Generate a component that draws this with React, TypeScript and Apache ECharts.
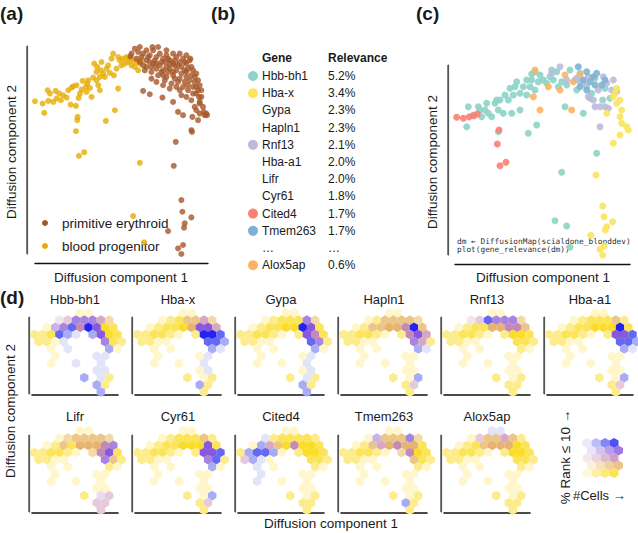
import { useEffect, useRef } from "react";
import * as echarts from "echarts";

// ================= DATA =================
// Panel (a): cells in diffusion-map space [DC1, DC2] (arbitrary units)
const bloodProgenitor: number[][] = [
  [5, 467], [28, 460], [33, 432], [43, 500], [45, 468], [60, 465], [67, 498], [78, 490], [83, 470], [90, 485],
  [100, 478], [112, 457], [115, 508], [120, 512], [128, 453], [130, 515], [133, 420], [132, 410], [128, 377],
  [136, 477], [145, 502], [148, 528], [158, 510], [162, 520], [165, 530], [170, 507], [175, 480], [180, 538],
  [183, 580], [190, 555], [192, 570], [195, 515], [200, 540], [203, 560], [210, 550], [215, 540], [218, 408],
  [225, 575], [230, 552], [240, 610], [242, 545], [245, 440], [250, 565], [255, 505], [260, 590], [265, 575],
  [270, 595], [280, 600], [285, 585], [290, 595], [295, 575], [300, 590], [305, 570], [310, 585], [315, 560],
  [320, 580], [325, 590], [137, 303], [153, 314], [320, 282], [300, 122], [333, 43], [50, 490], [70, 475],
  [105, 500], [140, 490], [160, 495], [190, 530], [205, 585], [220, 565], [235, 595], [275, 580], [255, 600],
  [200, 500],
];
const primitiveErythroid: number[][] = [
  [330, 498], [350, 488], [388, 478], [420, 465], [435, 435], [450, 425], [478, 420], [475, 380], [477, 375],
  [500, 465], [495, 410], [520, 430], [515, 425], [428, 345], [422, 273], [445, 170], [448, 135], [475, 118],
  [455, 100], [453, 87], [405, 77], [435, 25], [450, 35], [445, 8],
  [292, 602], [305, 625], [320, 630], [340, 620], [310, 595], [330, 610], [350, 605], [360, 620], [370, 600],
  [380, 610], [390, 595], [400, 605], [410, 590], [420, 580], [430, 600], [440, 585], [450, 595], [460, 580],
  [470, 590], [475, 570], [480, 560], [490, 550], [495, 530], [500, 515], [505, 500], [498, 480], [490, 490],
  [480, 510], [470, 530], [460, 540], [455, 560], [445, 550], [430, 560], [420, 545], [410, 565], [400, 570],
  [390, 560], [380, 575], [370, 565], [360, 580], [350, 585], [340, 590], [330, 575], [320, 585], [335, 560],
  [355, 555], [375, 545], [395, 530], [415, 520], [435, 525], [450, 510], [465, 500], [440, 500], [400, 540],
  [385, 555], [425, 575], [445, 570], [465, 515], [485, 525], [500, 460], [510, 450], [358, 630], [375, 630],
  [400, 620], [420, 610], [440, 610], [460, 605], [472, 595], [455, 525], [425, 535], [410, 580], [395, 585],
  [500, 430], [490, 440], [315, 615], [345, 600], [365, 590], [385, 585], [405, 595], [425, 590], [435, 575],
  [455, 585], [465, 565], [485, 540], [475, 545], [460, 555], [440, 535], [420, 555], [405, 555], [390, 545],
  [370, 580], [355, 570], [340, 570], [325, 600], [490, 510], [495, 500], [505, 480], [480, 490], [475, 470],
  [460, 480], [445, 485], [430, 510], [410, 505], [390, 515], [370, 525], [355, 535], [295, 610], [512, 435],
  [522, 425], [485, 450],
];

// Panel (b): gene relevance table
const tableGenes = ["Hbb-bh1", "Hba-x", "Gypa", "Hapln1", "Rnf13", "Hba-a1", "Lifr", "Cyr61", "Cited4", "Tmem263", "…", "Alox5ap"];
const tableRelevance = ["5.2%", "3.4%", "2.3%", "2.3%", "2.1%", "2.0%", "2.0%", "1.8%", "1.7%", "1.7%", "…", "0.6%"];

// Panel (c): cells coloured by most relevant gene [DC1, DC2]
const cellsHbbBh1: number[][] = [
  [40, 400], [45, 460], [60, 435], [75, 460], [85, 430], [95, 450], [105, 440], [115, 430], [125, 470], [135, 450],
  [140, 480], [135, 385], [150, 440], [155, 495], [165, 480], [175, 440], [180, 495], [185, 520], [190, 535],
  [200, 500], [200, 450], [210, 520], [220, 495], [225, 380], [230, 520], [235, 540], [245, 510], [250, 405],
  [255, 535], [260, 555], [270, 540], [280, 530], [290, 550], [300, 540], [310, 565], [315, 520], [325, 535],
  [335, 460], [340, 525], [350, 570], [365, 540], [370, 510], [390, 440], [400, 520], [410, 485], [425, 545],
  [430, 320], [325, 263], [305, 118], [340, 102], [350, 38], [235, 558], [245, 565], [295, 570], [415, 500],
  [448, 480], [455, 515], [380, 535], [470, 485], [380, 560], [220, 540], [170, 515], [130, 480], [100, 470],
  [80, 450],
];
const cellsAlox5ap: number[][] = [
  [245, 570], [240, 490], [260, 450], [285, 520], [335, 555], [355, 450], [380, 555], [360, 535], [320, 510],
];
const cellsRnf13: number[][] = [
  [295, 560], [320, 580], [340, 540], [370, 545], [390, 530], [405, 490], [420, 480], [425, 460], [440, 460],
  [440, 400], [455, 460], [460, 530], [475, 510], [480, 540], [490, 505], [405, 550], [450, 550], [435, 510],
  [465, 455],
];
const cellsTmem263: number[][] = [
  [375, 580], [400, 565], [420, 550], [430, 560], [410, 535], [390, 540], [425, 525], [445, 525], [455, 540],
  [400, 510], [380, 520],
];
const cellsCited4: number[][] = [
  [10, 428], [30, 425], [48, 430], [62, 433], [72, 438], [137, 390], [132, 348], [140, 283], [158, 293],
];
const cellsHbaX: number[][] = [
  [480, 490], [490, 470], [500, 480], [505, 450], [500, 430], [505, 410], [520, 400], [525, 390], [500, 375],
  [480, 350], [460, 440], [428, 255], [448, 162], [452, 130], [478, 115], [460, 100], [456, 90], [412, 74],
  [440, 32], [453, 42], [448, 15], [485, 500], [490, 515],
];

// Panel (d): hexbin cell counts (level 0-3, '.' = empty), rows top to bottom
const hexCountRows = [
  ".....00.....",
  "...0122221..",
  ".012233332..",
  "112210.1332.",
  "1100....221.",
  "..0.0....10.",
  "..0....00...",
  "..0..0..0...",
  ".......00...",
  "......1.01..",
  ".......11...",
  "........1...",
];
// per gene: [row, col, rank level 1-4] (all other hexes rank level 0)
const ranksHbbBh1 = [
  [1, 3, 2], [1, 4, 2], [1, 5, 3], [1, 6, 3], [1, 7, 3], [1, 8, 2], [1, 9, 1],
  [2, 2, 3], [2, 3, 3], [2, 4, 4], [2, 5, 2], [2, 6, 4], [2, 7, 3],
  [3, 3, 4], [3, 4, 4], [3, 5, 4], [3, 7, 4], [3, 8, 3], [4, 3, 4], [4, 8, 3],
  [5, 4, 4], [5, 9, 4], [6, 7, 4], [6, 8, 4], [7, 5, 4], [7, 8, 4], [8, 7, 4], [8, 8, 4],
  [9, 6, 4], [9, 8, 4], [10, 7, 4], [11, 8, 4],
];
const ranksHbaX = [
  [1, 6, 1], [1, 7, 1], [1, 8, 2], [1, 9, 1], [2, 6, 1], [2, 7, 3], [2, 8, 3], [2, 9, 2],
  [3, 8, 4], [3, 9, 4], [3, 10, 4], [4, 8, 4], [4, 9, 4], [4, 10, 4], [5, 9, 4], [5, 10, 4],
  [6, 8, 4], [7, 8, 4], [8, 8, 4], [10, 7, 4],
];
const ranksGypa = [
  [1, 8, 3], [1, 9, 1], [2, 7, 4], [2, 8, 3], [3, 8, 3], [3, 9, 2], [4, 8, 4], [4, 9, 3],
  [5, 9, 4], [6, 8, 4], [7, 8, 4], [8, 8, 4], [9, 8, 4], [10, 7, 4], [11, 8, 4],
];
const ranksHapln1 = [
  [1, 5, 1], [1, 6, 1], [1, 7, 1], [1, 8, 1], [1, 9, 1], [2, 3, 1], [2, 4, 1], [2, 5, 1], [2, 6, 1],
  [2, 7, 2], [2, 8, 4], [2, 9, 1], [3, 8, 2], [3, 9, 3], [3, 10, 2], [4, 8, 3], [4, 9, 2],
  [5, 9, 4], [5, 10, 4], [9, 9, 4], [10, 8, 2],
];
const ranksRnf13 = [
  [1, 3, 2], [1, 4, 2], [1, 5, 4], [1, 6, 3], [1, 7, 3], [1, 8, 3], [1, 9, 1],
  [2, 5, 1], [2, 6, 1], [2, 7, 2], [2, 8, 2], [2, 9, 1],
];
const ranksHbaA1 = [
  [1, 8, 1], [2, 8, 4], [3, 8, 3], [3, 9, 3], [3, 10, 4], [4, 8, 4], [4, 9, 4], [4, 10, 4],
  [5, 9, 4], [5, 10, 4], [9, 9, 4], [10, 8, 2],
];
const ranksLifr = [
  [1, 4, 1], [1, 5, 1], [1, 6, 1], [1, 7, 1], [1, 8, 1], [1, 9, 1], [2, 3, 1], [2, 5, 1], [2, 6, 1],
  [2, 7, 1], [2, 8, 2], [2, 9, 3], [3, 7, 1], [3, 8, 2], [3, 9, 3], [4, 8, 3], [4, 9, 1],
  [9, 8, 3], [9, 9, 2], [10, 7, 2], [10, 8, 2], [11, 8, 2],
];
const ranksCyr61 = [
  [1, 8, 1], [2, 8, 3], [3, 8, 3], [3, 9, 3], [3, 10, 4], [4, 8, 3], [4, 9, 4], [5, 9, 4], [9, 9, 4], [10, 8, 2],
];
const ranksCited4 = [
  [1, 3, 4], [2, 2, 4], [2, 3, 2], [2, 4, 1], [2, 6, 2], [3, 1, 4], [3, 2, 4], [3, 3, 4], [3, 4, 4],
  [4, 0, 2], [4, 1, 4], [4, 2, 4], [5, 2, 4], [6, 2, 4], [7, 2, 4],
];
const ranksTmem263 = [
  [1, 4, 3], [1, 5, 1], [1, 6, 1], [1, 7, 1], [1, 8, 3], [1, 9, 1], [2, 3, 1], [2, 4, 2], [2, 5, 1],
  [2, 6, 2], [2, 7, 1], [2, 8, 1], [3, 7, 1], [3, 8, 2], [4, 8, 1], [10, 7, 4],
];
const ranksAlox5ap = [
  [0, 5, 4], [0, 6, 4], [1, 4, 2], [1, 5, 1], [1, 6, 1], [1, 7, 2], [1, 8, 1],
  [2, 4, 1], [2, 5, 1], [2, 6, 1], [2, 7, 1],
];
const panelGenes = ["Hbb-bh1", "Hba-x", "Gypa", "Hapln1", "Rnf13", "Hba-a1", "Lifr", "Cyr61", "Cited4", "Tmem263", "Alox5ap"];
const panelRanks = [ranksHbbBh1, ranksHbaX, ranksGypa, ranksHapln1, ranksRnf13, ranksHbaA1, ranksLifr, ranksCyr61, ranksCited4, ranksTmem263, ranksAlox5ap];

// ================= STYLE =================
const FONT = "'Liberation Sans', Arial, Helvetica, sans-serif";
const MONO = "'DejaVu Sans Mono', monospace";
const TXT = "#1a1a1a";
const GENE_COLORS: Record<string, string> = {
  "Hbb-bh1": "#8DD3C7",
  "Hba-x": "#F9E65E",
  Rnf13: "#BEBADA",
  Cited4: "#FB8072",
  Tmem263: "#80B1D3",
  Alox5ap: "#FDB462",
};
const HEX_PALETTE = [
  ["#FFF6CC", "#FDEC8C", "#FCE458", "#FADD28"],
  ["#FBEBD6", "#F4D9A8", "#EBC688", "#E6B46E"],
  ["#F3E3EC", "#E6C9DA", "#D6A8C4", "#C48AB6"],
  ["#E6DDF5", "#C8B2EC", "#A884E2", "#8A58DC"],
  ["#E2E4FA", "#A8ACF6", "#6468F2", "#2424F0"],
];
const HEX_PATH = "path://M0,-1L0.866,-0.5L0.866,0.5L0,1L-0.866,0.5L-0.866,-0.5Z";
const HEX_DY = 0.866;
const PX = 8.3;
const Y_LINE = "#555555";

function txt(text: string, x: number, y: number, extra: any = {}, rotation = 0) {
  const { align = "left", vAlign = "middle", ...rest } = extra;
  return {
    type: "text",
    x,
    y,
    rotation,
    silent: true,
    style: {
      text,
      fill: TXT,
      fontSize: 13.5,
      fontFamily: FONT,
      textAlign: align,
      textVerticalAlign: vAlign,
      align,
      verticalAlign: vAlign,
      ...rest,
    },
  };
}

// vertical axis rule drawn beside a grid (left side, offset px)
function vRule(grid: { left: number; top: number; height: number }, offset: number) {
  const x = grid.left - offset;
  return {
    type: "rect",
    silent: true,
    z: 100,
    shape: { x: x - 0.7, y: grid.top, width: 1.4, height: grid.height },
    style: { fill: Y_LINE },
  };
}

function hiddenAxis(gridIndex: number, min: number, max: number) {
  return { gridIndex, type: "value", min, max, show: false };
}

function lineAxis(gridIndex: number, min: number, max: number, color: string, width: number, offset: number) {
  return {
    gridIndex,
    type: "value",
    min,
    max,
    offset,
    axisLine: { show: true, onZero: false, lineStyle: { color, width } },
    axisTick: { show: false },
    axisLabel: { show: false },
    splitLine: { show: false },
  };
}

function buildOption() {
  const grids: any[] = [];
  const xAxes: any[] = [];
  const yAxes: any[] = [];
  const series: any[] = [];
  const graphics: any[] = [];

  // ---- (a) ----
  const gA = { left: 35, top: 46, width: 173, height: 208 };
  grids.push(gA);
  xAxes.push(lineAxis(0, 5, 525, "#111", 1.3, 9));
  yAxes.push(lineAxis(0, 8, 633, Y_LINE, 1.2, 8));
  graphics.push(vRule(gA, 8));
  series.push({
    type: "scatter", xAxisIndex: 0, yAxisIndex: 0, data: bloodProgenitor, symbolSize: 6, clip: false,
    itemStyle: { color: "#E6AB02" }, silent: true,
  });
  series.push({
    type: "scatter", xAxisIndex: 0, yAxisIndex: 0, data: primitiveErythroid, symbolSize: 6, clip: false,
    itemStyle: { color: "#A65628" }, silent: true,
  });

  // ---- (c) ----
  const gC = { left: 455, top: 65, width: 175, height: 190 };
  grids.push(gC);
  xAxes.push(lineAxis(1, 5, 530, "#111", 1.3, 9));
  yAxes.push(lineAxis(1, 15, 585, Y_LINE, 1.2, 7));
  graphics.push(vRule(gC, 7));
  const cGroups: [number[][], string][] = [
    [cellsHbbBh1, GENE_COLORS["Hbb-bh1"]],
    [cellsAlox5ap, GENE_COLORS.Alox5ap],
    [cellsRnf13, GENE_COLORS.Rnf13],
    [cellsTmem263, GENE_COLORS.Tmem263],
    [cellsCited4, GENE_COLORS.Cited4],
    [cellsHbaX, GENE_COLORS["Hba-x"]],
  ];
  cGroups.forEach(([d, col]) => {
    series.push({
      type: "scatter", xAxisIndex: 1, yAxisIndex: 1, data: d, symbolSize: 7, clip: false,
      itemStyle: { color: col, opacity: 0.9 }, silent: true,
    });
  });

  // ---- (d) hex panels ----
  panelGenes.forEach((gene, i) => {
    const gi = 2 + i;
    const row = i < 6 ? 0 : 1;
    const col = i < 6 ? i : i - 6;
    const left = 32 + 103 * col;
    const top = row === 0 ? 317 : 435;
    const g = { left, top, width: 86, height: 77 };
    grids.push(g);
    xAxes.push(lineAxis(gi, -0.3, -0.3 + 86 / PX, "#111", 1.6, 1));
    yAxes.push(lineAxis(gi, -0.24, -0.24 + 77 / PX, Y_LINE, 1.2, 3));
    graphics.push(vRule(g, 3));
    const rankMap = new Map<number, number>();
    panelRanks[i].forEach(([r, c, k]) => rankMap.set(r * 100 + c, k));
    const data: any[] = [];
    hexCountRows.forEach((rowStr, r) => {
      for (let c = 0; c < rowStr.length; c++) {
        const ch = rowStr[c];
        if (ch === ".") continue;
        const cnt = Number(ch);
        const rk = rankMap.get(r * 100 + c) ?? 0;
        data.push({
          value: [c + (r % 2 === 0 ? 0.5 : 0), (11 - r) * HEX_DY],
          itemStyle: { color: HEX_PALETTE[rk][cnt] },
        });
      }
    });
    series.push({
      type: "scatter", xAxisIndex: gi, yAxisIndex: gi, data, symbol: HEX_PATH, symbolSize: [8.4, 9.7],
      clip: false, silent: true, itemStyle: { opacity: 1 },
    });
    graphics.push(txt(gene, left + 43, row === 0 ? 299 : 416, { align: "center", fontSize: 13 }));
  });

  // ---- (d) legend ----
  const lg = 2 + panelGenes.length;
  grids.push({ left: 587, top: 443, width: 31.5, height: 30 });
  xAxes.push(hiddenAxis(lg, 0, 3.5));
  yAxes.push(hiddenAxis(lg, 0, 4 * HEX_DY));
  const legendData: any[] = [];
  for (let r = 0; r < 5; r++) {
    for (let c = 0; c < 4; c++) {
      legendData.push({
        value: [c + (r % 2 === 1 ? 0.5 : 0), (4 - r) * HEX_DY],
        itemStyle: { color: HEX_PALETTE[4 - r][c] },
      });
    }
  }
  series.push({
    type: "scatter", xAxisIndex: lg, yAxisIndex: lg, data: legendData, symbol: HEX_PATH, symbolSize: [9, 10.2],
    clip: false, silent: true,
  });

  // ---- texts ----
  const bold = { fontWeight: "bold", fontSize: 19 };
  graphics.push(txt("(a)", 0, 13, bold));
  graphics.push(txt("(b)", 211, 13, bold));
  graphics.push(txt("(c)", 416, 13, bold));
  graphics.push(txt("(d)", 0, 297, bold));

  // (a)
  graphics.push(txt("Diffusion component 2", 11, 152, { align: "center" }, Math.PI / 2));
  graphics.push(txt("Diffusion component 1", 121, 277, { align: "center" }));
  graphics.push({ type: "circle", shape: { cx: 45, cy: 223, r: 3 }, style: { fill: "#A65628" }, silent: true });
  graphics.push({ type: "circle", shape: { cx: 45, cy: 246, r: 3 }, style: { fill: "#E6AB02" }, silent: true });
  graphics.push(txt("primitive erythroid", 62, 223));
  graphics.push(txt("blood progenitor", 62, 246));

  // (b)
  graphics.push(txt("Gene", 262, 58, { fontWeight: "bold", fontSize: 12 }));
  graphics.push(txt("Relevance", 328, 58, { fontWeight: "bold", fontSize: 12 }));
  tableGenes.forEach((g, i) => {
    const y = 76 + i * 17.2;
    const col = GENE_COLORS[g];
    if (col) {
      graphics.push({ type: "circle", shape: { cx: 253, cy: y, r: 5 }, style: { fill: col }, silent: true });
    }
    graphics.push(txt(g, 262, y, { fontSize: 12 }));
    graphics.push(txt(tableRelevance[i], 328, y, { fontSize: 12 }));
  });

  // (c)
  graphics.push(txt("Diffusion component 2", 432, 162, { align: "center" }, Math.PI / 2));
  graphics.push(txt("Diffusion component 1", 543, 277, { align: "center" }));
  graphics.push(txt("dm ← DiffusionMap(scialdone_blooddev)", 457, 241, { fontFamily: MONO, fontSize: 7.8, fill: "#333" }));
  graphics.push(txt("plot(gene_relevance(dm))", 457, 249.5, { fontFamily: MONO, fontSize: 7.8, fill: "#333" }));

  // (d)
  graphics.push(txt("Diffusion component 2", 10, 411, { align: "center" }, Math.PI / 2));
  graphics.push(txt("Diffusion component 1", 331, 523, { align: "center" }));
  graphics.push(txt("% Rank ≤ 10 →", 565, 457, { align: "center", fontSize: 13.5 }, Math.PI / 2));
  graphics.push(txt("#Cells →", 573, 495, { fontSize: 13 }));

  return {
    animation: false,
    backgroundColor: "#ffffff",
    grid: grids,
    xAxis: xAxes,
    yAxis: yAxes,
    series,
    graphic: { elements: graphics },
  };
}

export default function App() {
  const ref = useRef<HTMLDivElement>(null);
  useEffect(() => {
    if (!ref.current) return;
    const chart = echarts.init(ref.current, null, { renderer: "svg" });
    chart.setOption(buildOption() as any);
    return () => chart.dispose();
  }, []);
  return (
    <div
      ref={ref}
      style={{ position: "absolute", left: 0, top: 0, width: 638, height: 533, background: "#fff" }}
    />
  );
}
